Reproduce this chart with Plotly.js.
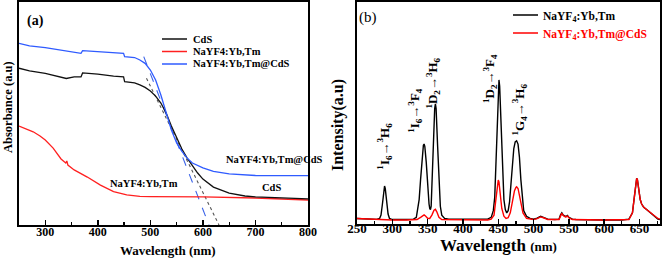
<!DOCTYPE html>
<html><head><meta charset="utf-8">
<script src="https://cdn.plot.ly/plotly-3.0.1.min.js"></script>
<style>html,body{margin:0;padding:0;background:#fff}#c{width:663px;height:261px}</style>
</head><body><div id="c"></div>
<script>
// ---- Panel (a): absorbance ----
const cdsX = [250,270,300,320,340,355,368,371,400,430,449,451,470,480,490,500,510,520,530,540,550,560,570,580,590,600,620,650,680,700,750,800];
const cdsY = [0.703,0.691,0.680,0.668,0.657,0.664,0.664,0.682,0.677,0.668,0.664,0.643,0.637,0.628,0.617,0.601,0.578,0.547,0.502,0.444,0.390,0.341,0.300,0.265,0.233,0.206,0.170,0.143,0.130,0.126,0.121,0.117];
const nyfX = [250,260,277,290,300,315,330,339,341,343,355,380,405,430,455,480,500,600,700,800];
const nyfY = [0.444,0.433,0.418,0.399,0.381,0.345,0.296,0.278,0.287,0.269,0.247,0.215,0.179,0.150,0.135,0.128,0.127,0.126,0.121,0.112];
const coreX = [250,270,300,330,350,368,371,400,430,449,451,470,480,490,500,510,520,530,540,550,560,570,580,600,620,650,700,800];
const coreY = [0.815,0.803,0.795,0.785,0.777,0.770,0.782,0.777,0.774,0.770,0.755,0.751,0.740,0.725,0.695,0.650,0.583,0.507,0.426,0.368,0.330,0.300,0.278,0.256,0.240,0.229,0.222,0.221];
const tanCoreX = [487.4, 611.5];
const tanCoreY = [0.755, 0.0];
const tanCdsX = [492.6, 630.6];
const tanCdsY = [0.658, 0.0];
const legendA = ['CdS', 'NaYF4:Yb,Tm', 'NaYF4:Yb,Tm@CdS'];

// ---- Panel (b): emission ----
const emX1 = [250,260,270,278,282,284,286,288,289,290,292,294,296,300,320,330,334,336,338,340,342,344,345,346,348,350,352,353,354,355,356,358,360,361,362,364,366,368,370,374,380,400,420,435,440,443,445,447,449,451,452,454,456,458,460,462,464,466,468,470,472,474,476,478,480,482,484,486,490,495,500,505,510,515,520,530,536,538,540,542,544,546,548,550,555,560,600,625,635,640,643,645,646,647,649,651,653,656,660,664,668,672,676,679];
const emY1 = [0.025,0.024,0.022,0.021,0.025,0.04,0.09,0.155,0.171,0.16,0.10,0.045,0.025,0.02,0.02,0.022,0.03,0.07,0.11,0.20,0.30,0.355,0.36,0.35,0.28,0.17,0.09,0.07,0.065,0.08,0.18,0.38,0.52,0.541,0.52,0.36,0.18,0.08,0.04,0.025,0.022,0.021,0.021,0.022,0.03,0.06,0.12,0.30,0.55,0.649,0.62,0.42,0.22,0.11,0.065,0.05,0.06,0.10,0.18,0.27,0.34,0.37,0.375,0.36,0.30,0.20,0.11,0.06,0.035,0.025,0.022,0.026,0.035,0.03,0.022,0.02,0.022,0.04,0.05,0.04,0.035,0.033,0.038,0.03,0.022,0.02,0.018,0.018,0.022,0.05,0.13,0.19,0.206,0.2,0.15,0.11,0.09,0.075,0.065,0.055,0.045,0.032,0.022,0.02];
const emX2 = [250,270,300,320,335,340,343,345,347,350,353,356,359,361,363,366,370,400,435,440,444,447,449,450,451,453,455,458,461,464,467,470,473,475,476,478,480,482,485,490,500,505,510,515,520,536,538,540,542,545,548,550,555,600,635,640,643,645,646,647,649,651,653,656,660,664,668,672,676,679];
const emY2 = [0.025,0.022,0.018,0.018,0.02,0.03,0.038,0.041,0.036,0.026,0.025,0.04,0.062,0.066,0.055,0.03,0.02,0.018,0.018,0.022,0.04,0.12,0.18,0.198,0.19,0.13,0.07,0.035,0.025,0.028,0.05,0.10,0.15,0.165,0.168,0.16,0.13,0.09,0.05,0.025,0.02,0.024,0.032,0.027,0.02,0.02,0.038,0.048,0.038,0.032,0.036,0.028,0.02,0.018,0.02,0.05,0.13,0.19,0.206,0.2,0.15,0.11,0.09,0.075,0.065,0.055,0.045,0.035,0.025,0.022];
const legendB = ['NaYF<sub>4</sub>:Yb,Tm', 'NaYF<sub>4</sub>:Yb,Tm@CdS'];

const peakLabels = ["<sup>1</sup>I<sub>6</sub>→<sup>3</sup>H<sub>6</sub>","<sup>1</sup>I<sub>6</sub>→<sup>3</sup>F<sub>4</sub>","<sup>1</sup>D<sub>2</sub>→<sup>3</sup>H<sub>6</sub>","<sup>1</sup>D<sub>2</sub>→<sup>3</sup>F<sub>4</sub>","<sup>1</sup>G<sub>4</sub>→<sup>3</sup>H<sub>6</sub>"];
const peakLabelX = [289, 332, 357, 438, 480];
const peakLabelY = [0.351, 0.514, 0.635, 0.657, 0.518];

const F = "Liberation Serif, Times New Roman, serif";
const W = 663, H = 261;
const px = v => v / W, py = v => 1 - v / H;
const colA = ['#111', '#ff2020', '#2f5bff'];
const colB = ['#000', '#ff0000'];

const traces = [
  {x: tanCoreX, y: tanCoreY, xaxis:'x', yaxis:'y', mode:'lines', line:{color:'#3b63e8', width:1.1, dash:'dash'}},
  {x: tanCdsX, y: tanCdsY, xaxis:'x', yaxis:'y', mode:'lines', line:{color:'#555', width:1.1, dash:'dot'}},
  {x: nyfX, y: nyfY, xaxis:'x', yaxis:'y', mode:'lines', name:legendA[1], line:{color:colA[1], width:1.3}},
  {x: cdsX, y: cdsY, xaxis:'x', yaxis:'y', mode:'lines', name:legendA[0], line:{color:colA[0], width:1.3}},
  {x: coreX, y: coreY, xaxis:'x', yaxis:'y', mode:'lines', name:legendA[2], line:{color:colA[2], width:1.3}},
  {x: emX1, y: emY1, xaxis:'x2', yaxis:'y2', mode:'lines', name:legendB[0], line:{color:colB[0], width:1.4}},
  {x: emX2, y: emY2, xaxis:'x2', yaxis:'y2', mode:'lines', name:legendB[1], line:{color:colB[1], width:1.4}}
];

const axBase = {showline:true, mirror:true, linecolor:'#000', linewidth:2, showgrid:false, zeroline:false, ticks:'inside', ticklen:5, tickwidth:1.5, tickcolor:'#000'};
const ann = (o) => Object.assign({showarrow:false, xanchor:'center', yanchor:'middle', xref:'paper', yref:'paper'}, o);
const layout = {
  width: W, height: H, margin:{l:0,r:0,t:0,b:0}, paper_bgcolor:'#fff', plot_bgcolor:'#fff',
  font:{family:F, color:'#000'}, showlegend:false,
  xaxis: Object.assign({}, axBase, {domain:[px(19), px(308)], range:[250,800], tick0:0, dtick:100, anchor:'y', ticklabelstandoff:-5,
    minor:{dtick:50, ticks:'inside', ticklen:3, tickcolor:'#000', tickwidth:1.2}, tickfont:{family:F, size:12, weight:'bold'}}),
  yaxis: Object.assign({}, axBase, {domain:[py(225), py(2)], range:[0,1], ticks:'', showticklabels:false, anchor:'x'}),
  xaxis2: Object.assign({}, axBase, {domain:[px(357), px(660)], range:[250,679], tick0:0, dtick:50, anchor:'y2', ticklabelstandoff:-9,
    minor:{dtick:25, ticks:'inside', ticklen:3, tickcolor:'#000', tickwidth:1.2}, tickfont:{family:F, size:13, weight:'bold'}}),
  yaxis2: Object.assign({}, axBase, {domain:[py(224), py(2)], range:[0,1], ticks:'', showticklabels:false, anchor:'x2'}),
  shapes: [],
  annotations: [
    ann({text:'<b>(a)</b>', x:px(35), y:py(21), font:{family:F, size:14}}),
    ann({text:'(b)', x:px(368), y:py(17), font:{family:F, size:15}}),
    ann({text:'<b>Absorbance (a.u)</b>', x:px(8), y:py(107), textangle:-90, font:{family:F, size:12.5}}),
    ann({text:'<b>Wavelength (nm)</b>', x:px(168), y:py(250), font:{family:F, size:13}}),
    ann({text:'<b>Intensity(a.u)</b>', x:px(338), y:py(125), textangle:-90, font:{family:F, size:16}}),
    ann({text:'<b>Wavelength <span style="font-size:13px">(nm)</span></b>', x:px(498), y:py(245.5), font:{family:F, size:17}}),
    ann({text:'<b>NaYF4:Yb,Tm@CdS</b>', xref:'x', yref:'y', x:737, y:(225-159)/223, font:{family:F, size:10.5}}),
    ann({text:'<b>CdS</b>', xref:'x', yref:'y', x:730, y:(225-187)/223, font:{family:F, size:10.5}}),
    ann({text:'<b>NaYF4:Yb,Tm</b>', xref:'x', yref:'y', x:488, y:(225-183)/223, font:{family:F, size:10.5}})
  ]
};
peakLabels.forEach((t, i) => layout.annotations.push(ann({text:'<b>'+t+'</b>', xref:'x2', yref:'y2', x:peakLabelX[i], y:peakLabelY[i], textangle:-90, font:{family:F, size:13}})));
const rowA = [39, 51.5, 64];
legendA.forEach((t, i) => {
  layout.shapes.push({type:'line', xref:'paper', yref:'paper', x0:px(162), x1:px(187), y0:py(rowA[i]), y1:py(rowA[i]), line:{color:colA[i], width:1.5}});
  layout.annotations.push(ann({text:'<b>'+t+'</b>', x:px(191), y:py(rowA[i]), xanchor:'left', font:{family:F, size:10.5}}));
});
const rowB = [15, 33];
legendB.forEach((t, i) => {
  layout.shapes.push({type:'line', xref:'paper', yref:'paper', x0:px(513), x1:px(538), y0:py(rowB[i]), y1:py(rowB[i]), line:{color:colB[i], width:1.5}});
  layout.annotations.push(ann({text:'<b>'+t+'</b>', x:px(541), y:py(rowB[i]+2), xanchor:'left', font:{family:F, size:11.5, color:colB[i]}}));
});

Plotly.newPlot('c', traces, layout, {staticPlot:true, displayModeBar:false});
</script></body></html>
